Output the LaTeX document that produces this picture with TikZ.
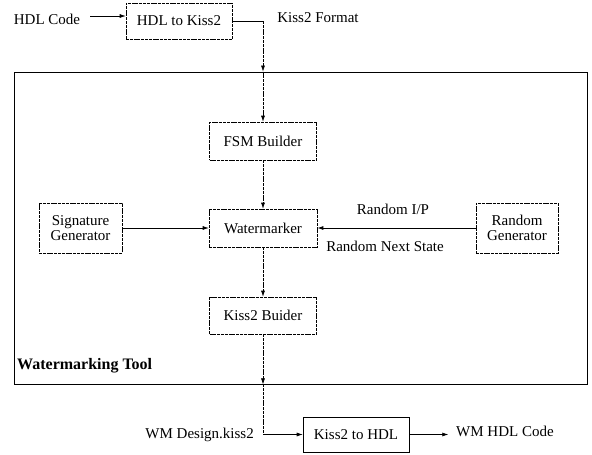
\documentclass[tikz,border=0pt]{standalone}
\usepackage{fontspec}
\setmainfont{Liberation Serif}
\usetikzlibrary{arrows.meta}
\begin{document}
\begin{tikzpicture}[x=1pt,y=-1pt,
  every node/.style={font=\fontsize{15}{16}\selectfont, inner sep=0pt},
  blk/.style={draw, line width=0.6pt, dash pattern=on 3pt off 0.8pt, align=center},
  sblk/.style={draw, line width=0.6pt, align=center},
  vline/.style={line width=0.6pt, dash pattern=on 3pt off 0.8pt},
  hline/.style={line width=0.6pt},
  arr/.style={-{Latex[length=6pt,width=4pt]}},
  lbl/.style={anchor=center}]
\useasboundingbox (0,0) rectangle (592,455);
% outer box
\node[draw, line width=0.8pt, minimum width=573pt, minimum height=312pt] (tool) at (300.5,228) {};
\node[font=\fontsize{16}{17}\selectfont\bfseries, anchor=west] (tlbl) at (17,366) {Watermarking Tool};
% blocks
\node[blk, minimum width=106pt, minimum height=36pt] (hk) at (179,21) {HDL to Kiss2};
\node[blk, minimum width=107pt, minimum height=38pt] (fsm) at (263,141) {FSM Builder};
\node[blk, minimum width=108pt, minimum height=38pt] (wm) at (263,228) {Watermarker};
\node[blk, minimum width=83pt, minimum height=50pt] (sig) at (80.5,228) {Signature\\[-1pt]Generator};
\node[blk, minimum width=82pt, minimum height=50pt] (rnd) at (517,228) {Random\\[-1pt]Generator};
\node[blk, minimum width=107pt, minimum height=37pt] (kb) at (263,315.5) {Kiss2 Buider};
\node[sblk, minimum width=106pt, minimum height=35pt] (kh) at (356,434.5) {Kiss2 to HDL};
% texts
\node[lbl] (hdl) at (47,19) {HDL Code};
\node[lbl] (kf) at (318,18) {Kiss2 Format};
\node[lbl] (rip) at (393,209) {Random I/P};
\node[lbl] (rns) at (385,246) {Random Next State};
\node[anchor=east] (wmd) at (254,434.5) {WM Design.kiss2};
\node[anchor=west] (wmh) at (456,431) {WM HDL Code};
% connectors
\coordinate (c1) at (hk.east -| fsm.north);
\coordinate (c2) at (tool.north -| fsm.north);
\coordinate (c3) at (tool.south -| kb.south);
\coordinate (c4) at (kh.west -| kb.south);
\draw[hline, arr] (hdl.east) ++(10pt,3pt) coordinate (h0) -- (h0 -| hk.west);
\draw[hline] (hk.east) -- (c1);
\draw[vline, arr] (c1) -- (c2);
\draw[vline, arr] (c2) -- (fsm.north);
\draw[vline, arr] (fsm.south) -- (wm.north);
\draw[hline, arr] (sig.east) -- (wm.west);
\draw[hline, line width=0.9pt, arr] (rnd.west) -- (wm.east);
\draw[vline, arr] (wm.south) -- (kb.north);
\draw[vline, arr] (kb.south) -- (c3);
\draw[vline] (c3) -- (c4);
\draw[hline, arr] (c4) -- (kh.west);
\draw[hline, arr] (kh.east) -- ++(39pt,0);
\end{tikzpicture}
\end{document}
